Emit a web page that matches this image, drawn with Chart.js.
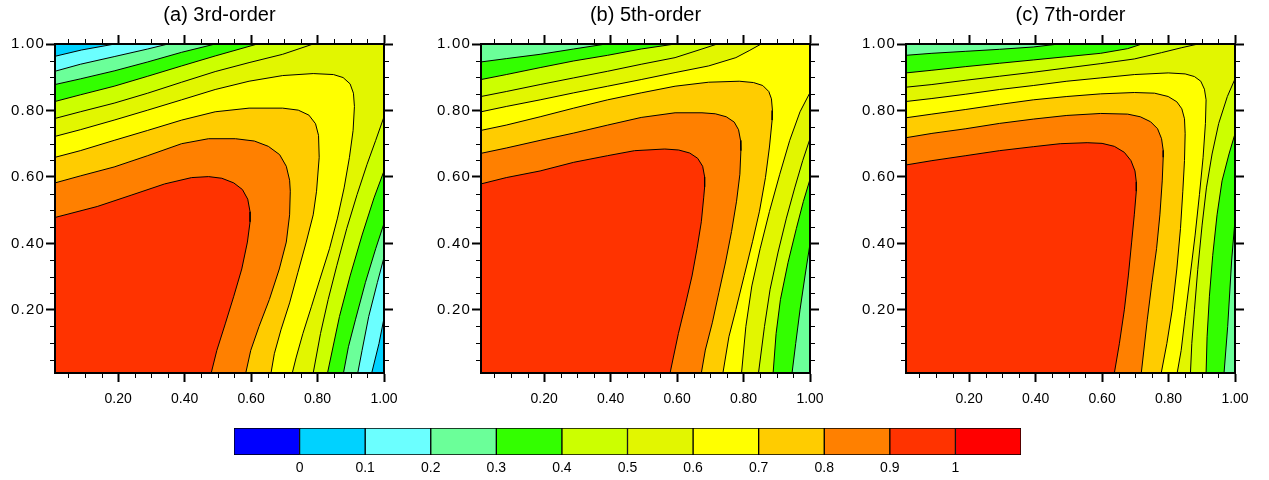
<!DOCTYPE html>
<html>
<head>
<meta charset="utf-8">
<title>Contours</title>
<script src="https://cdn.jsdelivr.net/npm/chart.js@4.4.1/dist/chart.umd.min.js"></script>
<style>
  html, body { margin: 0; padding: 0; background: #fff; overflow: hidden; }
  canvas { position: absolute; }
</style>
</head>
<body>
<canvas id="panelA" width="409" height="408" style="left:0px;top:0px"></canvas>
<canvas id="panelB" width="409" height="408" style="left:426px;top:0px"></canvas>
<canvas id="panelC" width="409" height="408" style="left:851px;top:0px"></canvas>
<canvas id="colorbar" width="807" height="60" style="left:224px;top:420px"></canvas>
<script>
// colour table: below 0, one colour per 0.1 band, above 1
const bandColors = ['#0000ff', '#00d2ff', '#6bffff', '#6bff99', '#33ff00', '#ccff00',
                    '#e2f600', '#ffff00', '#ffcc00', '#ff8000', '#ff3300', '#ff0000'];
const colorbarEdges = [-0.1, 0, 0.1, 0.2, 0.3, 0.4, 0.5, 0.6, 0.7, 0.8, 0.9, 1, 1.1];
const colorbarTicks = [0, 0.1, 0.2, 0.3, 0.4, 0.5, 0.6, 0.7, 0.8, 0.9, 1];
const colorbarLabels = ['0', '0.1', '0.2', '0.3', '0.4', '0.5', '0.6', '0.7', '0.8', '0.9', '1'];

const axisTicks = [0.2, 0.4, 0.6, 0.8, 1.0];
const minorTicks = [0.05, 0.10, 0.15, 0.25, 0.30, 0.35, 0.45, 0.50, 0.55,
                    0.65, 0.70, 0.75, 0.85, 0.90, 0.95];
const titles = ['(a) 3rd-order', '(b) 5th-order', '(c) 7th-order'];

// ---- (a) 3rd-order ----
// levels whose contour runs from the left edge up to the top edge,
// and comes back in from the right edge down to the bottom edge
const splitLevelsA = [0.1, 0.2, 0.3, 0.4, 0.5];
const topA = [
  [[0.01,0.963],[0.09,0.982],[0.19,1]],
  [[0.01,0.918],[0.086,0.939],[0.188,0.962],[0.289,0.985],[0.350,1]],
  [[0.01,0.878],[0.086,0.895],[0.188,0.919],[0.289,0.946],[0.391,0.975],[0.492,1]],
  [[0.01,0.827],[0.086,0.847],[0.188,0.873],[0.289,0.903],[0.391,0.934],[0.492,0.964],[0.619,1]],
  [[0.01,0.776],[0.086,0.796],[0.188,0.822],[0.289,0.852],[0.391,0.885],[0.492,0.917],[0.594,0.944],[0.695,0.969],[0.787,1]]
];
const sideA = [
  [[1,0.175],[0.985,0.099],[0.963,0.01]],
  [[1,0.358],[0.980,0.282],[0.954,0.180],[0.934,0.078],[0.921,0.01]],
  [[1,0.460],[0.975,0.384],[0.944,0.282],[0.914,0.170],[0.893,0.089],[0.878,0.01]],
  [[1,0.618],[0.970,0.537],[0.934,0.425],[0.898,0.302],[0.866,0.180],[0.830,0.01]],
  [[1,0.781],[0.975,0.710],[0.949,0.638],[0.919,0.547],[0.888,0.445],[0.858,0.333],[0.832,0.231],[0.809,0.129],[0.787,0.01]]
];
// levels whose contour wraps round the high corner, left edge -> bottom edge
const ringLevelsA = [0.6, 0.7, 0.8, 0.9];
const ringA = [
  [[0.01,0.722],[0.086,0.742],[0.188,0.771],[0.289,0.801],[0.391,0.832],[0.492,0.863],[0.594,0.888],[0.695,0.905],[0.787,0.911],[0.848,0.908],[0.877,0.899],[0.898,0.880],[0.908,0.852],[0.911,0.812],[0.907,0.740],[0.896,0.659],[0.880,0.567],[0.860,0.476],[0.836,0.384],[0.807,0.292],[0.782,0.211],[0.756,0.129],[0.736,0.058],[0.724,0.01]],
  [[0.01,0.659],[0.086,0.679],[0.188,0.710],[0.289,0.740],[0.391,0.771],[0.492,0.796],[0.594,0.807],[0.695,0.807],[0.742,0.801],[0.774,0.786],[0.794,0.760],[0.803,0.725],[0.805,0.659],[0.797,0.557],[0.787,0.486],[0.766,0.404],[0.741,0.313],[0.716,0.221],[0.690,0.140],[0.670,0.068],[0.660,0.01]],
  [[0.01,0.582],[0.086,0.603],[0.188,0.630],[0.289,0.664],[0.391,0.700],[0.472,0.715],[0.553,0.715],[0.610,0.708],[0.652,0.692],[0.686,0.667],[0.706,0.632],[0.716,0.590],[0.718,0.557],[0.716,0.486],[0.706,0.404],[0.685,0.323],[0.655,0.231],[0.624,0.150],[0.599,0.078],[0.584,0.01]],
  [[0.01,0.478],[0.137,0.511],[0.239,0.545],[0.340,0.579],[0.421,0.598],[0.472,0.601],[0.512,0.596],[0.548,0.582],[0.574,0.562],[0.590,0.533],[0.597,0.495],[0.597,0.465],[0.589,0.404],[0.572,0.323],[0.548,0.241],[0.523,0.160],[0.497,0.078],[0.480,0.01]]
];

// ---- (b) 5th-order ----
const splitLevelsB = [0.3, 0.4, 0.5, 0.6];
const topB = [
  [[0.01,0.946],[0.086,0.956],[0.188,0.969],[0.289,0.985],[0.386,1]],
  [[0.01,0.893],[0.086,0.908],[0.188,0.929],[0.289,0.949],[0.391,0.966],[0.492,0.985],[0.594,1]],
  [[0.01,0.842],[0.086,0.857],[0.188,0.878],[0.289,0.898],[0.391,0.918],[0.492,0.939],[0.594,0.959],[0.675,0.985],[0.721,1]],
  [[0.01,0.796],[0.086,0.812],[0.188,0.832],[0.289,0.853],[0.391,0.873],[0.492,0.893],[0.594,0.914],[0.695,0.934],[0.777,0.959],[0.817,0.980],[0.853,1]]
];
const sideB = [
  [[1,0.399],[0.985,0.302],[0.970,0.200],[0.957,0.099],[0.946,0.01]],
  [[1,0.593],[0.980,0.526],[0.959,0.445],[0.934,0.343],[0.911,0.231],[0.898,0.129],[0.889,0.01]],
  [[1,0.715],[0.978,0.649],[0.954,0.567],[0.929,0.476],[0.904,0.374],[0.880,0.262],[0.863,0.150],[0.845,0.01]],
  [[1,0.854],[0.970,0.796],[0.939,0.710],[0.909,0.608],[0.878,0.496],[0.850,0.384],[0.825,0.272],[0.807,0.150],[0.794,0.01]]
];
const ringLevelsB = [0.7, 0.8, 0.9];
const ringB = [
  [[0.01,0.740],[0.086,0.756],[0.188,0.781],[0.289,0.807],[0.391,0.832],[0.492,0.853],[0.594,0.873],[0.695,0.885],[0.787,0.888],[0.830,0.884],[0.858,0.875],[0.876,0.857],[0.884,0.835],[0.887,0.800],[0.886,0.771],[0.878,0.690],[0.866,0.598],[0.848,0.497],[0.827,0.405],[0.802,0.303],[0.777,0.201],[0.756,0.119],[0.738,0.01]],
  [[0.01,0.671],[0.086,0.687],[0.188,0.710],[0.289,0.732],[0.391,0.756],[0.492,0.779],[0.594,0.793],[0.675,0.793],[0.715,0.790],[0.748,0.781],[0.772,0.765],[0.785,0.742],[0.791,0.710],[0.792,0.679],[0.789,0.608],[0.779,0.527],[0.764,0.436],[0.746,0.344],[0.726,0.253],[0.706,0.161],[0.685,0.079],[0.673,0.01]],
  [[0.01,0.579],[0.086,0.598],[0.188,0.618],[0.289,0.644],[0.391,0.664],[0.472,0.679],[0.563,0.684],[0.605,0.681],[0.638,0.672],[0.662,0.656],[0.677,0.632],[0.683,0.600],[0.683,0.570],[0.680,0.537],[0.673,0.465],[0.660,0.384],[0.645,0.302],[0.624,0.211],[0.604,0.129],[0.589,0.058],[0.579,0.01]]
];

// ---- (c) 7th-order ----
const splitLevelsC = [0.3, 0.4, 0.5];
const topC = [
  [[0.01,0.966],[0.088,0.972],[0.190,0.978],[0.291,0.984],[0.393,0.991],[0.470,1]],
  [[0.01,0.913],[0.088,0.921],[0.190,0.932],[0.291,0.942],[0.393,0.952],[0.494,0.962],[0.596,0.972],[0.677,0.986],[0.720,1]],
  [[0.01,0.870],[0.088,0.878],[0.190,0.891],[0.291,0.903],[0.393,0.915],[0.494,0.928],[0.596,0.941],[0.697,0.955],[0.779,0.974],[0.840,0.989],[0.889,1]]
];
const sideC = [
  [[1,0.47],[0.99,0.35],[0.978,0.15],[0.967,0.01]],
  [[1,0.730],[0.982,0.669],[0.961,0.588],[0.946,0.486],[0.933,0.364],[0.923,0.241],[0.916,0.119],[0.913,0.01]],
  [[1,0.895],[0.977,0.842],[0.951,0.761],[0.931,0.669],[0.914,0.567],[0.901,0.455],[0.888,0.322],[0.878,0.200],[0.870,0.099],[0.866,0.01]]
];
const ringLevelsC = [0.6, 0.7, 0.8, 0.9];
const ringC = [
  [[0.01,0.827],[0.088,0.836],[0.190,0.849],[0.291,0.863],[0.393,0.875],[0.494,0.888],[0.596,0.898],[0.697,0.908],[0.799,0.913],[0.850,0.910],[0.878,0.902],[0.897,0.888],[0.908,0.864],[0.913,0.832],[0.911,0.761],[0.904,0.659],[0.893,0.547],[0.880,0.425],[0.865,0.302],[0.850,0.180],[0.838,0.078],[0.826,0.01]],
  [[0.01,0.778],[0.088,0.789],[0.190,0.803],[0.291,0.818],[0.393,0.832],[0.494,0.842],[0.596,0.850],[0.697,0.854],[0.758,0.852],[0.799,0.842],[0.825,0.826],[0.840,0.805],[0.848,0.775],[0.850,0.730],[0.848,0.649],[0.843,0.557],[0.836,0.445],[0.825,0.323],[0.811,0.200],[0.795,0.099],[0.778,0.01]],
  [[0.01,0.718],[0.088,0.731],[0.190,0.745],[0.291,0.761],[0.393,0.774],[0.494,0.785],[0.596,0.791],[0.677,0.789],[0.715,0.781],[0.746,0.766],[0.767,0.745],[0.779,0.715],[0.784,0.680],[0.784,0.659],[0.781,0.588],[0.774,0.486],[0.764,0.384],[0.750,0.282],[0.736,0.170],[0.718,0.01]],
  [[0.01,0.636],[0.088,0.649],[0.190,0.664],[0.291,0.679],[0.393,0.691],[0.474,0.700],[0.555,0.703],[0.600,0.701],[0.637,0.692],[0.667,0.674],[0.687,0.649],[0.699,0.618],[0.703,0.585],[0.703,0.557],[0.697,0.486],[0.689,0.404],[0.679,0.302],[0.667,0.200],[0.652,0.098],[0.637,0.01]]
];

const fontFamily = "'Liberation Sans', Arial, Helvetica, sans-serif";
const tickFont = { family: fontFamily, size: 14 };
const yTickFont = { family: fontFamily, size: 15 };

// fill colour of the region above a contour level
function levelColor(level) {
    return bandColors[Math.round(level * 10) + 1];
}

function toXY(points) {
    return points.map(p => ({ x: p[0], y: p[1] }));
}

// closed polygon filled with the band colour (no outline)
function fillSet(points, color, order) {
    return {
        data: toXY(points), showLine: true, fill: 'shape', tension: 0,
        backgroundColor: color, borderColor: 'transparent', borderWidth: 0,
        pointRadius: 0, order
    };
}

// black contour line
function lineSet(points) {
    return {
        data: toXY(points), showLine: true, fill: false, tension: 0,
        borderColor: '#000', borderWidth: 1, pointRadius: 0, order: 0
    };
}

function panelDatasets(splitLevels, top, side, ringLevels, ring) {
    const sets = [];
    const lowest = Math.min(...splitLevels, ...ringLevels);
    // whole plot in the lowest band, higher regions painted over it
    sets.push(fillSet([[0.01, 0.01], [0.01, 1], [1, 1], [1, 0.01]],
        bandColors[Math.round(lowest * 10)], 100));
    splitLevels.forEach((lv, i) => {
        const poly = [[0.01, 0.01], ...top[i], [1, 1], ...side[i], [1, 0.01]];
        sets.push(fillSet(poly, levelColor(lv), 50 - Math.round(lv * 10)));
        sets.push(lineSet(top[i]), lineSet(side[i]));
    });
    ringLevels.forEach((lv, i) => {
        const poly = [[0.01, 0.01], ...ring[i], [1, 0.01]];
        sets.push(fillSet(poly, levelColor(lv), 50 - Math.round(lv * 10)));
        sets.push(lineSet(ring[i]));
    });
    return sets;
}

function frameAxis(position, showLabels, size) {
    const horizontal = position === 'top' || position === 'bottom';
    return {
        type: 'linear', position, min: 0.01, max: 1,
        afterBuildTicks: axis => { axis.ticks = axisTicks.map(v => ({ value: v })); },
        afterFit: axis => { if (horizontal) axis.height = size; else axis.width = size; },
        ticks: {
            display: showLabels, color: '#000', maxRotation: 0,
            font: horizontal ? tickFont : yTickFont,
            padding: horizontal ? 9 : 1,
            // y labels go on after the datasets, when the wider spacing is on
            z: horizontal ? 0 : 1,
            callback: v => v.toFixed(2)
        },
        grid: { drawOnChartArea: false, tickLength: 9, tickWidth: 2, tickColor: '#000' },
        border: { color: '#000', width: 2, z: 1 }
    };
}

// short ticks every 0.05 on all four sides
const minorTickPlugin = {
    id: 'minorTicks',
    afterDraw(chart) {
        const { ctx, chartArea: area, scales: { x, y } } = chart;
        ctx.save();
        ctx.strokeStyle = '#000';
        ctx.lineWidth = 1;
        ctx.beginPath();
        minorTicks.forEach(v => {
            const px = Math.round(x.getPixelForValue(v)) + 0.5;
            const py = Math.round(y.getPixelForValue(v)) + 0.5;
            ctx.moveTo(px, area.bottom); ctx.lineTo(px, area.bottom + 5);
            ctx.moveTo(px, area.top); ctx.lineTo(px, area.top - 5);
            ctx.moveTo(area.left, py); ctx.lineTo(area.left - 5, py);
            ctx.moveTo(area.right, py); ctx.lineTo(area.right + 5, py);
        });
        ctx.stroke();
        ctx.restore();
    }
};

// the y labels are set a little wider than the x labels
const wideLabelPlugin = {
    id: 'wideLabels',
    afterDatasetsDraw(chart) { chart.ctx.letterSpacing = '1.2px'; },
    afterDraw(chart) { chart.ctx.letterSpacing = '0px'; }
};

function drawPanel(id, title, datasets) {
    new Chart(document.getElementById(id), {
        type: 'scatter',
        data: { datasets },
        options: {
            responsive: false, animation: false, events: [],
            layout: { padding: 0 },
            plugins: {
                legend: { display: false },
                tooltip: { enabled: false },
                title: {
                    display: true, text: title, fullSize: false, color: '#000',
                    font: { family: fontFamily, size: 20, weight: 'normal', lineHeight: '22px' },
                    padding: { top: 4, bottom: 8 }
                }
            },
            scales: {
                x: frameAxis('bottom', true, 35),
                y: frameAxis('left', true, 55),
                x2: frameAxis('top', false, 10),
                y2: frameAxis('right', false, 25)
            }
        },
        plugins: [minorTickPlugin, wideLabelPlugin]
    });
}

drawPanel('panelA', titles[0], panelDatasets(splitLevelsA, topA, sideA, ringLevelsA, ringA));
drawPanel('panelB', titles[1], panelDatasets(splitLevelsB, topB, sideB, ringLevelsB, ringB));
drawPanel('panelC', titles[2], panelDatasets(splitLevelsC, topC, sideC, ringLevelsC, ringC));

// label bar: one floating box per colour band
new Chart(document.getElementById('colorbar'), {
    type: 'bar',
    data: {
        labels: [''],
        datasets: bandColors.map((c, i) => ({
            data: [[colorbarEdges[i], colorbarEdges[i + 1]]],
            backgroundColor: c, borderColor: '#000', borderWidth: 1, borderSkipped: false,
            barPercentage: 1, categoryPercentage: 1, grouped: false
        }))
    },
    options: {
        indexAxis: 'y', responsive: false, animation: false, events: [],
        layout: { padding: { left: 10, right: 10, top: 8, bottom: 0 } },
        plugins: { legend: { display: false }, tooltip: { enabled: false } },
        scales: {
            x: {
                type: 'linear', min: -0.1, max: 1.1,
                afterBuildTicks: axis => { axis.ticks = colorbarTicks.map(v => ({ value: v })); },
                afterFit: axis => { axis.height = 25; },
                ticks: {
                    color: '#000', font: tickFont, padding: 5, maxRotation: 0, autoSkip: false,
                    callback: (v, i) => colorbarLabels[i]
                },
                grid: { display: false, drawTicks: false },
                border: { display: false }
            },
            y: { display: false }
        }
    }
});
</script>
</body>
</html>
